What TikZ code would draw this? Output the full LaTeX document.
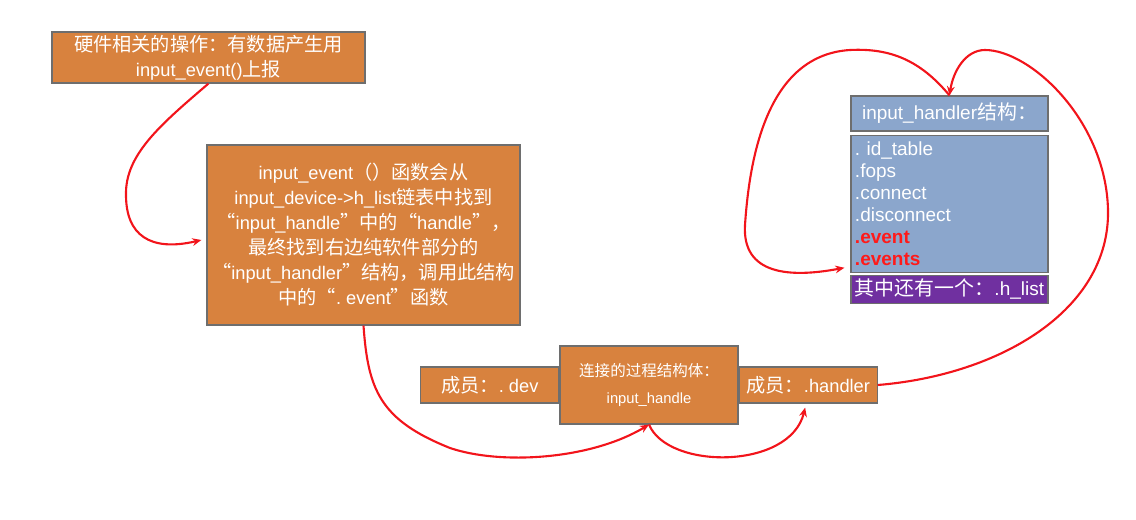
\documentclass[tikz,border=0pt]{standalone}
\usepackage{fontspec}
\setmainfont{Liberation Sans}
\newfontfamily\zh{Noto Sans CJK SC}[Scale=1.05]
\usetikzlibrary{arrows.meta, positioning}
\definecolor{boxorange}{HTML}{D8823E}
\definecolor{boxblue}{HTML}{8BA6CC}
\definecolor{boxpurple}{HTML}{7030A0}
\definecolor{boxgray}{HTML}{6E6E6E}
\definecolor{linered}{HTML}{F2141B}
\definecolor{fieldred}{HTML}{FF1A1A}
\frenchspacing
\tikzset{
  obox/.style={draw=boxgray, line width=0.8pt, fill=boxorange, text=white,
               align=center, inner sep=0pt, font=\fontsize{13}{17.8}\selectfont},
  sbox/.style={draw=boxgray, line width=0.8pt, fill=boxblue, text=white,
               inner sep=0pt, minimum width=4.925cm, font=\fontsize{13.5}{15.6}\selectfont},
  redflow/.style={-{Stealth[length=6.5pt, width=5.5pt]}, line width=1.5pt, draw=linered},
}

\begin{document}
\begin{tikzpicture}[x=0.025cm, y=-0.025cm]
  \useasboundingbox (0,0) rectangle (1136,519);
  \node (hw) [obox, minimum width=7.825cm, minimum height=1.275cm] at (208.5,57.5)
    {{\zh 硬件相关的操作：有数据产生用}\\input\_event(){\zh 上报}};
  \node (ev) [obox, minimum width=7.825cm, minimum height=4.5cm] at (363.5,235)
    {input\_event{\zh （）函数会从}\\
     input\_device->h\_list{\zh 链表中找到}\\
     {\zh “}input\_handle{\zh ”中的“}handle{\zh ”，}\\
     {\zh 最终找到右边纯软件部分的}\\
     {\zh “}input\_handler{\zh ”结构，调用此结构}\\
     {\zh 中的“}. event{\zh ”函数}};
  \node (hd) [obox, minimum width=4.45cm, minimum height=1.95cm,
              font=\fontsize{10.5}{19.2}\selectfont] at (649,385)
    {{\zh 连接的过程结构体：}\\input\_handle};
  \node (dev) [obox, left=0pt of hd, minimum width=3.45cm, minimum height=0.9cm] {{\zh 成员：}. dev};
  \node (hdl) [obox, right=0pt of hd, minimum width=3.45cm, minimum height=0.9cm] {{\zh 成员：}.handler};
  \node (ttl) [sbox, minimum height=0.875cm] at (949.5,113.5) {input\_handler{\zh 结构：}};
  \node (body) [sbox, below=0.075cm of ttl, minimum height=3.425cm, text width=4.725cm, align=left]
    {. id\_table\\.fops\\.connect\\.disconnect\\
     \textcolor{fieldred}{\bfseries .event}\\\textcolor{fieldred}{\bfseries .events}};
  \node (hl) [sbox, fill=boxpurple, below=0.05cm of body, minimum height=0.7cm] {{\zh 其中还有一个：}.h\_list};

  \draw[redflow] (hw.south) .. controls (160,125) and (125,155) .. (126,195)
    .. controls (126,235) and (150,252) .. ([shift={(-5,5)}]ev.west);
  \draw[redflow] (ev.south) .. controls (368,390) and (380,420) .. (450,448)
    .. controls (500,465) and (590,460) .. (hd.south);
  \draw[redflow] (hd.south) .. controls (668,470) and (790,470) .. ([shift={(-3,4)}]hdl.south);
  \draw[redflow] (hdl.east) .. controls (1000,375) and (1110,310) .. (1108,210)
    .. controls (1106,120) and (1030,50) .. (985,50) .. controls (965,50) and (953,72) .. (ttl.north);
  \draw[redflow] (ttl.north) .. controls (920,60) and (890,48) .. (850,50)
    .. controls (770,55) and (750,150) .. (745,225)
    .. controls (742,275) and (790,278) .. ([shift={(-6,-5)}]body.south west);
\end{tikzpicture}
\end{document}
